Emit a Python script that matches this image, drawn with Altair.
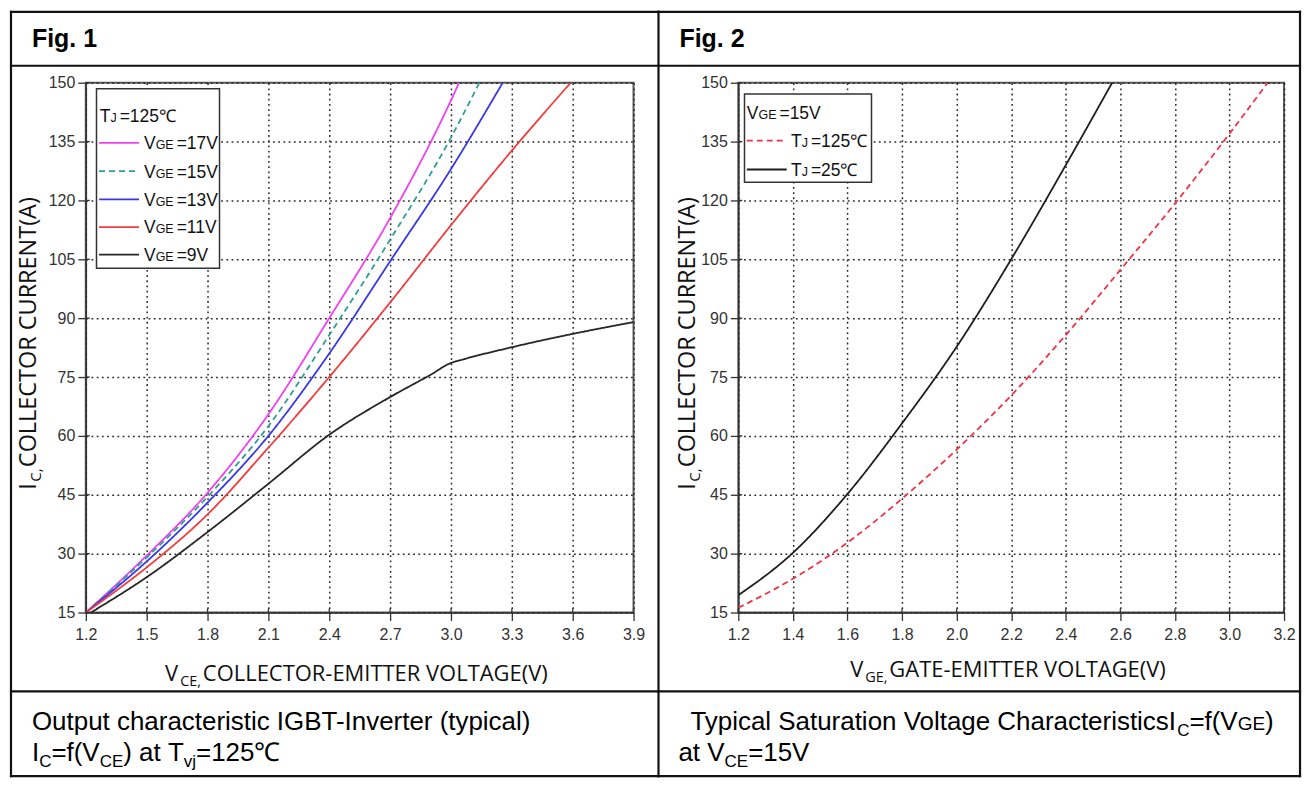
import altair as alt
import pandas as pd

# ------------------------------------------------------------------ data
fig1_x_ticks = [1.2, 1.5, 1.8, 2.1, 2.4, 2.7, 3.0, 3.3, 3.6, 3.9]
fig1_y_ticks = [15, 30, 45, 60, 75, 90, 105, 120, 135, 150]
fig2_x_ticks = [1.2, 1.4, 1.6, 1.8, 2.0, 2.2, 2.4, 2.6, 2.8, 3.0, 3.2]
fig2_y_ticks = [15, 30, 45, 60, 75, 90, 105, 120, 135, 150]

# Fig. 1  Ic = f(Vce) at Tj = 125 C, one curve per Vge
vge17_v = [1.2, 1.5, 1.8, 2.1, 2.4, 2.7, 3.0, 3.04]
vge17_i = [15, 29.5, 45.5, 65.5, 90, 115.5, 145.5, 150]
vge15_v = [1.2, 1.5, 1.8, 2.1, 2.4, 2.7, 3.0, 3.14]
vge15_i = [15, 29, 44.5, 62.5, 85.7, 110, 136, 150]
vge13_v = [1.2, 1.5, 1.8, 2.1, 2.4, 2.7, 3.0, 3.255]
vge13_i = [15, 28, 43, 60, 81, 104.5, 128, 150]
vge11_v = [1.2, 1.5, 1.8, 2.1, 2.4, 2.7, 3.0, 3.3, 3.59]
vge11_i = [15, 26.5, 40, 57, 75, 94, 113.7, 132.7, 150]
vge9_v = [1.225, 1.5, 1.8, 2.1, 2.4, 2.7, 2.9, 3.0, 3.06, 3.3, 3.6, 3.9]
vge9_i = [15, 24, 35.5, 47.8, 60.3, 69.9, 75.6, 78.6, 79.5, 82.6, 86, 89]

fig1_labels = ["17V", "15V", "13V", "11V", "9V"]
fig1_colors = ["#f040f0", "#2f9f96", "#3838e6", "#f03c3c", "#262626"]
fig1_dashes = [[1, 0], [6, 4], [1, 0], [1, 0], [1, 0]]

# Fig. 2  Ic = f(Vge) at Vce = 15 V
tj125_v = [1.2, 1.4, 1.6, 1.8, 2.0, 2.2, 2.4, 2.6, 2.8, 3.0, 3.14]
tj125_i = [16.2, 23.6, 32.8, 44, 56.5, 70.3, 85.7, 102.3, 119.2, 137, 150]
tj25_v = [1.2, 1.4, 1.6, 1.8, 2.0, 2.2, 2.4, 2.57]
tj25_i = [19.4, 30.2, 45.2, 63.2, 82.7, 105, 129, 150]

fig2_labels = ["125℃", "25℃"]
fig2_colors = ["#ee3344", "#1e1e1e"]
fig2_dashes = [[6, 4], [1, 0]]

df1 = pd.DataFrame(
    [{"series": lab, "v": v, "i": i}
     for lab, vs, is_ in zip(fig1_labels,
                             [vge17_v, vge15_v, vge13_v, vge11_v, vge9_v],
                             [vge17_i, vge15_i, vge13_i, vge11_i, vge9_i])
     for v, i in zip(vs, is_)]
)
df2 = pd.DataFrame(
    [{"series": lab, "v": v, "i": i}
     for lab, vs, is_ in zip(fig2_labels, [tj125_v, tj25_v], [tj125_i, tj25_i])
     for v, i in zip(vs, is_)]
)

# ------------------------------------------------------------------ helpers
ARIALF = "Liberation Sans, Arial, sans-serif"
OPENF = "Open Sans, sans-serif"
NB = "\u00a0"

ARIAL = {' ': 278, NB: 278, '=': 584, 'f': 278, '(': 333, ')': 333, 'V': 667, 'C': 722,
         'E': 667, 'I': 278, 'a': 556, 't': 278, 'T': 611, 'v': 500, 'j': 222, 'G': 778,
         'J': 500, 'y': 500, 'p': 556, 'i': 222, 'c': 500, 'l': 222, 'S': 667, 'u': 556,
         'r': 333, 'o': 556, 'n': 556, 'g': 556, 'e': 556, 'h': 556, 's': 500, '.': 278}
OPEN = {' ': 260, NB: 260, ',': 245, '-': 322, '(': 296, ')': 296, 'A': 633, 'C': 631,
        'E': 556, 'G': 728, 'I': 279, 'L': 520, 'M': 890, 'N': 759, 'O': 781, 'R': 619,
        'T': 557, 'U': 738, 'V': 596}


def width(s, size, metrics):
    return sum(metrics.get(c, 556) for c in s) * size / 1000.0


ONE = pd.DataFrame({"k": [0]})


def txt(s, x, y, size, font=ARIALF, weight="normal", color="#111", align="left",
        baseline="alphabetic", angle=0):
    kw = dict(text=s, fontSize=size, font=font, fontWeight=weight, color=color,
              align=align, baseline=baseline)
    if angle:
        kw["angle"] = angle
    return alt.Chart(ONE).mark_text(**kw).encode(x=alt.value(x), y=alt.value(y))


def run(parts, x0, y, font, metrics, color="#111", gap=0.0):
    """parts: (text, size, dy[, extra x shift after this piece])"""
    out, x = [], x0
    for p in parts:
        s, size, dy = p[:3]
        extra = p[3] if len(p) > 3 else 0
        out.append(txt(s, x, y + dy, size, font=font, color=color))
        x += width(s, size, metrics) + gap + extra
    return out


def run_vertical(parts, x, y0, font, metrics, gap=0.0):
    out, y = [], y0
    for s, size, dx in parts:
        out.append(txt(s, x + dx, y, size, font=font, angle=270))
        y -= width(s, size, metrics) + gap
    return out


def hline(x1, x2, y, w=2.2, color="#111", dash=None, cap="square"):
    kw = dict(color=color, strokeWidth=w, strokeCap=cap)
    if dash:
        kw["strokeDash"] = dash
    return alt.Chart(ONE).mark_rule(**kw).encode(
        x=alt.value(x1), x2=alt.value(x2), y=alt.value(y))


def vline(x, y1, y2, w=2.2, color="#111"):
    return alt.Chart(ONE).mark_rule(color=color, strokeWidth=w, strokeCap="square").encode(
        x=alt.value(x), y=alt.value(y1), y2=alt.value(y2))


def box(x1, x2, y1, y2):
    return alt.Chart(ONE).mark_rect(fill="white", stroke="#333", strokeWidth=1.5).encode(
        x=alt.value(x1), x2=alt.value(x2), y=alt.value(y1), y2=alt.value(y2))


W1, W2, H = 549, 547, 531
TOP, HEAD, CAPDIV, BOTTOM = -71, -17, 610, 695
LEG = 17.5      # legend main font size
LEGS = 12.5     # legend small letters


def axes(xdom, xticks, xpad):
    xs = alt.Scale(domain=xdom, nice=False, zero=False)
    ys = alt.Scale(domain=[15, 150], nice=False, zero=False)
    xa = alt.Axis(values=xticks, format=".1f", title=None, labelPadding=xpad)
    ya = alt.Axis(values=fig1_y_ticks, title=None, labelPadding=3)
    return xs, ys, xa, ya


def lines_chart(df, xdom, xticks, labels, colors, dashes, xpad):
    xs, ys, xa, ya = axes(xdom, xticks, xpad)
    return alt.Chart(df).mark_line(strokeWidth=1.8, interpolate="monotone", clip=True).encode(
        x=alt.X("v:Q", scale=xs, axis=xa),
        y=alt.Y("i:Q", scale=ys, axis=ya),
        color=alt.Color("series:N", scale=alt.Scale(domain=labels, range=colors), legend=None),
        strokeDash=alt.StrokeDash("series:N", scale=alt.Scale(domain=labels, range=dashes),
                                  legend=None),
        detail="series:N",
    )


def inner_ticks(xticks, yticks, xdom, hgt, xpad):
    """short tick stubs pointing into the plot, placed through the same scales"""
    xs, ys, xa, ya = axes(xdom, xticks, xpad)
    xt = alt.Chart(pd.DataFrame({"v": xticks})).mark_rule(color="#333", strokeWidth=1.3).encode(
        x=alt.X("v:Q", scale=xs, axis=xa),
        y=alt.value(hgt - 4), y2=alt.value(hgt))
    yt = alt.Chart(pd.DataFrame({"i": yticks})).mark_rule(color="#333", strokeWidth=1.3).encode(
        y=alt.Y("i:Q", scale=ys, axis=ya),
        x=alt.value(0), x2=alt.value(4))
    return [xt, yt]


# ------------------------------------------------------------------ panel 1
L1, R1 = -75, 574
p1 = [lines_chart(df1, [1.2, 3.9], fig1_x_ticks, fig1_labels, fig1_colors, fig1_dashes, 6)]
p1 += inner_ticks(fig1_x_ticks, fig1_y_ticks, [1.2, 3.9], H, 6)
p1.append(box(10.7, 134, 6, 186))
p1 += run([("T", LEG, 0), ("J", LEGS, 0, 3), (NB + "=125℃", LEG, 0)], 14, 33 + 6.3,
          ARIALF, ARIAL)
for lab, col, dash, yy in zip(fig1_labels, fig1_colors, fig1_dashes,
                              [60.3, 88.7, 117, 144.7, 172.3]):
    p1.append(hline(13.3, 53.3, yy, w=1.8, color=col,
                    dash=dash if dash != [1, 0] else None, cap="butt"))
    p1 += run([("V", LEG, 0), ("GE", LEGS, 0, 3), (NB + "=" + lab, LEG, 0)], 58.3, yy + 6.3,
              ARIALF, ARIAL)
# axis titles
XT = 22
t_main = NB + "COLLECTOR-EMITTER VOLTAGE(V)"
tot = width("V", XT, OPEN) + width("CE,", 14.5, OPEN) + width(t_main, XT, OPEN) + 4
p1 += run([("V", XT, 0), ("CE,", 14.5, 5), (t_main, XT, 0)], W1 / 2 - tot / 2, 600,
          OPENF, OPEN, gap=2)
p1 += run_vertical([("I", 23.5, 0), ("C,", 15, 5), (NB + "COLLECTOR CURRENT(A)", 23.5, 0)],
                   -50, 408, OPENF, OPEN, gap=1.5)
# header / caption
p1.append(txt("Fig. 1", -54, -44, 25, weight="bold", color="#000", baseline="middle"))
p1.append(txt("Output characteristic IGBT-Inverter (typical)", -54, 649, 26, color="#000"))
p1 += run([("I", 26, 0), ("C", 17, 6), ("=f(V", 26, 0), ("CE", 17, 6),
           (")" + NB + "at" + NB + "T", 26, 0), ("vj", 17, 6), ("=125℃", 26, 0)],
          -54, 680, ARIALF, ARIAL, color="#000")
# table lines
for yy in (TOP, HEAD, CAPDIV, BOTTOM):
    p1.append(hline(L1, R1, yy))
p1.append(vline(L1, TOP, BOTTOM))
p1.append(vline(R1, TOP, BOTTOM))

panel1 = alt.layer(*p1).properties(width=W1, height=H)

# ------------------------------------------------------------------ panel 2
L2, R2 = -80, 563
p2 = [lines_chart(df2, [1.2, 3.2], fig2_x_ticks, fig2_labels, fig2_colors, fig2_dashes, 6)]
p2 += inner_ticks(fig2_x_ticks, fig2_y_ticks, [1.2, 3.2], H, 6)
p2.append(box(6.2, 133.5, 11.3, 99.7))
p2 += run([("V", LEG, 0), ("GE", LEGS, 0, 3), (NB + "=15V", LEG, 0)], 8.5, 29.7 + 6.3,
          ARIALF, ARIAL)
for lab, col, dash, yy, x2 in zip(fig2_labels, fig2_colors, fig2_dashes, [58, 87], [44.5, 48.5]):
    p2.append(hline(8.5, x2, yy, w=1.8, color=col,
                    dash=dash if dash != [1, 0] else None, cap="butt"))
    p2 += run([("T", LEG, 0), ("J", LEGS, 0, 3), (NB + "=" + lab, LEG, 0)], 52.8, yy + 6.3,
              ARIALF, ARIAL)
t_main2 = NB + "GATE-EMITTER VOLTAGE(V)"
tot2 = width("V", XT, OPEN) + width("GE,", 14.5, OPEN) + width(t_main2, XT, OPEN) + 4
p2 += run([("V", XT, 0), ("GE,", 14.5, 5), (t_main2, XT, 0)], W2 / 2 - tot2 / 2, 596,
          OPENF, OPEN, gap=2)
p2 += run_vertical([("I", 23.5, 0), ("C,", 15, 5), (NB + "COLLECTOR CURRENT(A)", 23.5, 0)],
                   -43, 408, OPENF, OPEN, gap=1.5)
p2.append(txt("Fig. 2", -59, -44, 25, weight="bold", color="#000", baseline="middle"))
p2 += run([("Typical Saturation Voltage CharacteristicsI", 26, 0, -2), ("C", 17, 6),
           ("=f(V", 26, 0), ("GE", 19, 0), (")", 26, 0)], -48, 649, ARIALF, ARIAL, color="#000")
p2 += run([("at" + NB + "V", 26, 0), ("CE", 17, 6), ("=15V", 26, 0)], -60, 680,
          ARIALF, ARIAL, color="#000")
for yy in (TOP, HEAD, CAPDIV, BOTTOM):
    p2.append(hline(L2, R2, yy))
p2.append(vline(R2, TOP, BOTTOM))

panel2 = alt.layer(*p2).properties(width=W2, height=H)

# ------------------------------------------------------------------ assemble
chart = alt.hconcat(panel1, panel2, spacing=105, bounds="flush", padding=0).resolve_scale(
    color="independent", strokeDash="independent"
).configure_view(
    stroke="#555", strokeWidth=2
).configure_axis(
    labelFont=ARIALF, labelFontSize=16, labelColor="#333", labelFlush=False,
    domainColor="#333", domainWidth=1.5, tickColor="#333", tickWidth=1.3, tickSize=8,
    grid=True, gridColor="#2b2b2b", gridDash=[1.8, 3.4], gridWidth=1.5,
)

chart.save("out.html", embed_options={"renderer": "svg", "actions": False})
